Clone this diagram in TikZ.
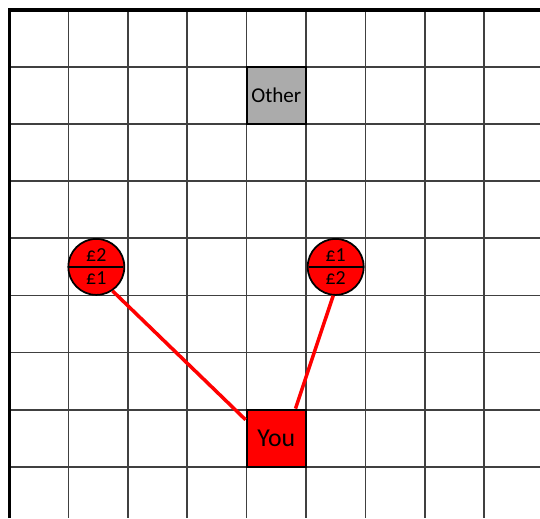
\documentclass[tikz,border=0pt]{standalone}
\usepackage{fontspec}
\setmainfont{Carlito}
\usetikzlibrary{shapes.multipart}
\tikzset{
  cellbox/.style={draw=black, line width=1.8pt, minimum width=1.782cm, minimum height=1.713cm, inner sep=0pt},
  coin/.style={circle split, draw=black, line width=1.5pt, fill=red, minimum size=1.68cm, inner sep=3.5pt, font=\fontsize{17}{17}\selectfont},
  link/.style={red, line width=3pt},
  gridline/.style={black!75, line width=1.5pt}
}

\begin{document}
\begin{tikzpicture}[x=1.782cm, y=1.713cm]
\useasboundingbox (-0.152,0.175) rectangle (8.94,-8.9);
\foreach \i in {1,...,8} \draw[gridline] (\i,0) -- (\i,-8.9);
\foreach \j in {1,...,8} \draw[gridline] (0,-\j) -- (8.94,-\j);
\draw[line width=2.6pt] (0,-8.9) -- (0,0) -- (8.94,0);
\node[cellbox, fill=black!33, font=\fontsize{18}{18}\selectfont] (other) at (4.5,-1.5) {Other};
\node[cellbox, fill=red, font=\fontsize{22}{22}\selectfont] (you) at (4.5,-7.5) {You};
\node[coin] (lc) at (1.47,-4.5) {£2\nodepart{lower}£1};
\node[coin] (rc) at (5.5,-4.5) {£1\nodepart{lower}£2};
\draw[link] (lc.-56) -- (you.149);
\draw[link] (rc.-95) -- (you.57);
\end{tikzpicture}
\end{document}
